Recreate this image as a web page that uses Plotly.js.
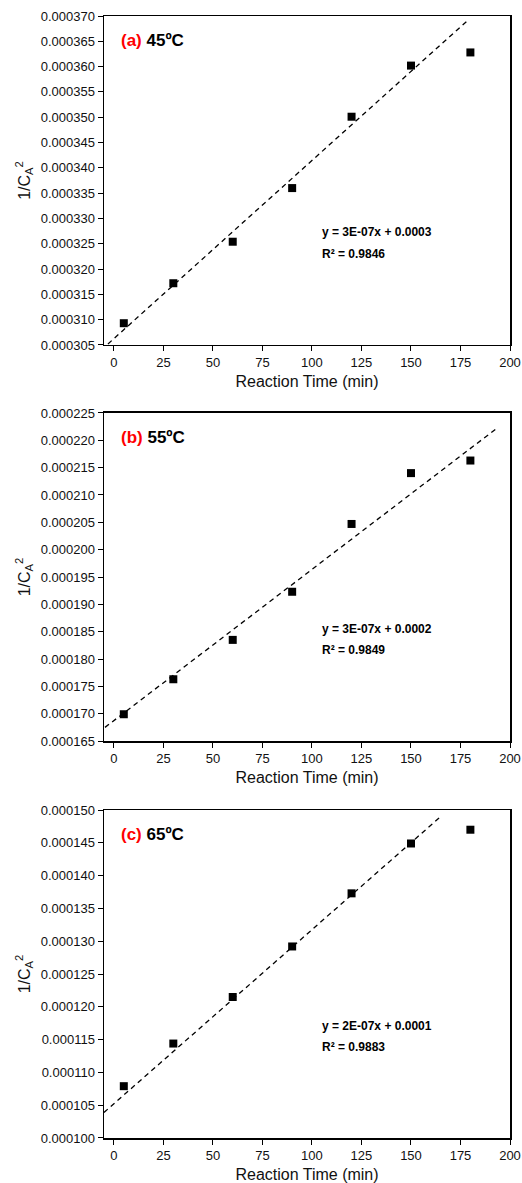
<!DOCTYPE html>
<html>
<head>
<meta charset="utf-8">
<script src="https://cdn.plot.ly/plotly-3.0.1.min.js"></script>
<style>html,body{margin:0;padding:0;background:#fff;}#chart{width:522px;height:1183px;}</style>
</head>
<body>
<div id="chart"></div>
<script>
// Data
const time = [5, 30, 60, 90, 120, 150, 180];
const invCa2_45 = [0.0003093, 0.0003172, 0.0003254, 0.000336, 0.0003501, 0.0003602, 0.0003628];
const invCa2_55 = [0.0001699, 0.0001763, 0.0001835, 0.0001923, 0.0002047, 0.000214, 0.0002163];
const invCa2_65 = [0.0001079, 0.0001144, 0.0001215, 0.0001292, 0.0001373, 0.0001449, 0.000147];
// Trendline endpoints
const fit45_x = [-3, 178];
const fit45_y = [0.0003052, 0.0003689];
const fit55_x = [-4.5, 193];
const fit55_y = [0.0001675, 0.0002221];
const fit65_x = [-5, 165];
const fit65_y = [0.0001039, 0.000149];
const xTicks = [0, 25, 50, 75, 100, 125, 150, 175, 200];
const panelLabels = ['(a)', '(b)', '(c)'];
const temps = ['45ºC', '55ºC', '65ºC'];
const equations = ['y = 3E-07x + 0.0003', 'y = 3E-07x + 0.0002', 'y = 2E-07x + 0.0001'];
const r2 = ['R² = 0.9846', 'R² = 0.9849', 'R² = 0.9883'];

const FONT = 'Liberation Sans, Arial, sans-serif';
const series = [invCa2_45, invCa2_55, invCa2_65];
const fitsX = [fit45_x, fit55_x, fit65_x];
const fitsY = [fit45_y, fit55_y, fit65_y];
const yRanges = [[0.000305, 0.000370], [0.000165, 0.000225], [0.000100, 0.000150]];
const domains = [[0.7068, 1.0], [0.3538, 0.6462], [0.0, 0.2923]];

const traces = [];
const layout = {
  width: 522, height: 1183,
  margin: {l: 104, r: 12, t: 16, b: 45},
  paper_bgcolor: '#fff', plot_bgcolor: '#fff',
  showlegend: false,
  font: {family: FONT, color: '#000', size: 13},
  annotations: []
};

for (let i = 0; i < 3; i++) {
  const sfx = i === 0 ? '' : String(i + 1);
  const xa = 'x' + sfx, ya = 'y' + sfx;
  traces.push({
    x: time, y: series[i], xaxis: xa, yaxis: ya,
    type: 'scatter', mode: 'markers',
    marker: {symbol: 'square', size: 8, color: '#000'}
  });
  traces.push({
    x: fitsX[i], y: fitsY[i], xaxis: xa, yaxis: ya,
    type: 'scatter', mode: 'lines',
    line: {color: '#000', width: 1.3, dash: '5px,4px'}
  });
  layout['xaxis' + sfx] = {
    anchor: ya, range: [-5, 200], tickvals: xTicks,
    ticks: 'outside', ticklen: 5, tickwidth: 1, tickcolor: '#000',
    showline: true, linecolor: '#000', linewidth: 1.5, mirror: true,
    showgrid: false, zeroline: false,
    tickfont: {family: FONT, size: 13, color: '#111'},
    title: {text: 'Reaction Time (min)', font: {family: FONT, size: 16, color: '#111'}, standoff: 6}
  };
  layout['yaxis' + sfx] = {
    anchor: xa, domain: domains[i], range: yRanges[i], dtick: 0.000005,
    tickformat: '.6f',
    ticks: 'outside', ticklen: 5, tickwidth: 1, tickcolor: '#000',
    showline: true, linecolor: '#000', linewidth: 1.5, mirror: true,
    showgrid: false, zeroline: false,
    tickfont: {family: FONT, size: 13, color: '#111'},
    title: {text: '1/C<sub>A</sub><sup>2</sup>', font: {family: FONT, size: 16, color: '#111'}, standoff: 6}
  };
  layout.annotations.push({
    xref: xa + ' domain', yref: ya + ' domain', x: 0.038, y: 0.926,
    xanchor: 'left', yanchor: 'middle', showarrow: false,
    text: '<b><span style="color:#ff0000">' + panelLabels[i] + '</span> ' + temps[i] + '</b>',
    font: {family: FONT, size: 17, color: '#000'}
  });
  layout.annotations.push({
    xref: xa + ' domain', yref: ya + ' domain', x: 0.533, y: 0.342,
    xanchor: 'left', yanchor: 'middle', showarrow: false,
    text: '<b>' + equations[i] + '</b>',
    font: {family: FONT, size: 12, color: '#000'}
  });
  layout.annotations.push({
    xref: xa + ' domain', yref: ya + ' domain', x: 0.533, y: 0.278,
    xanchor: 'left', yanchor: 'middle', showarrow: false,
    text: '<b>' + r2[i] + '</b>',
    font: {family: FONT, size: 12, color: '#000'}
  });
}

Plotly.newPlot('chart', traces, layout, {displayModeBar: false, staticPlot: true});
</script>
</body>
</html>
